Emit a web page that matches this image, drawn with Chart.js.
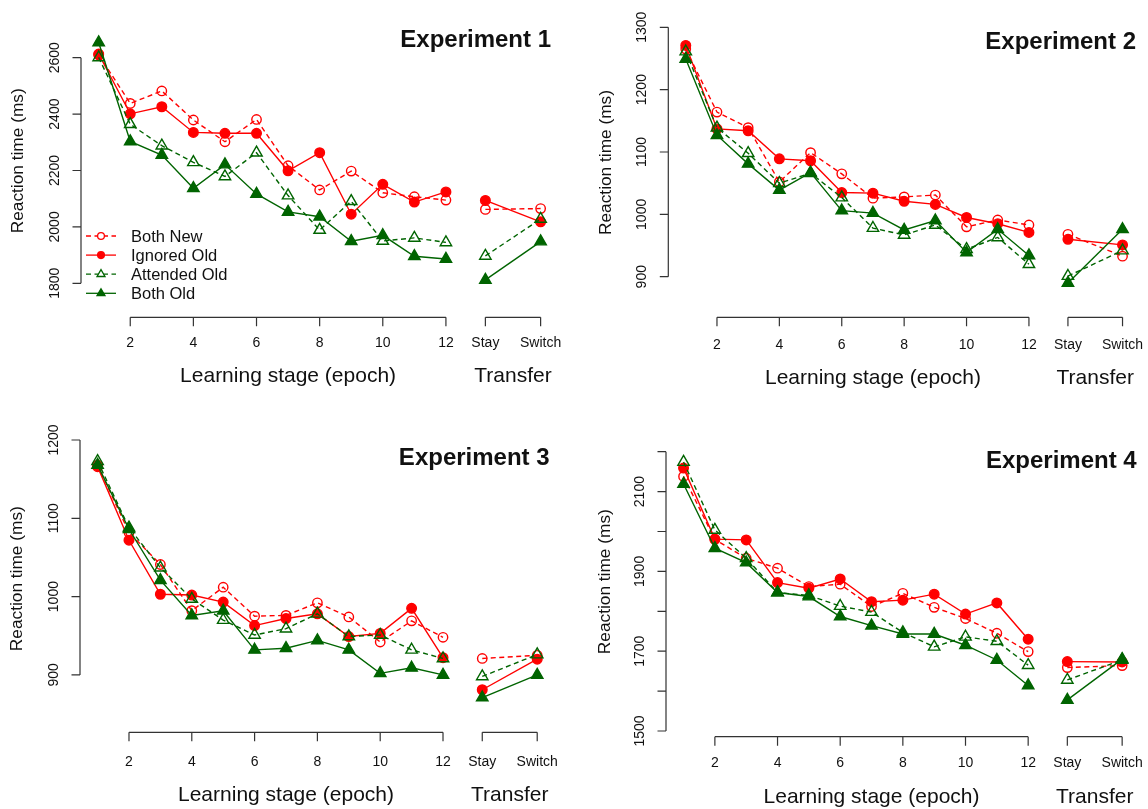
<!DOCTYPE html>
<html><head><meta charset="utf-8">
<script src="https://cdn.jsdelivr.net/npm/chart.js@4.4.1/dist/chart.umd.min.js"></script>
<style>
html,body{margin:0;padding:0;background:#fff;}
#wrap{position:relative;width:1148px;height:809px;overflow:hidden;background:#fff;}
canvas{position:absolute;}
</style></head><body><div id="wrap">
<canvas id="c1" width="574" height="404" style="left:0;top:0"></canvas>
<canvas id="c2" width="574" height="404" style="left:574px;top:0"></canvas>
<canvas id="c3" width="574" height="405" style="left:0;top:404px"></canvas>
<canvas id="c4" width="574" height="405" style="left:574px;top:404px"></canvas>
</div>
<script>
// ---------- categories / tick labels ----------
const epochs = [1,2,3,4,5,6,7,8,9,10,11,12];
const transferPos = [13.25, 15];
const epochTicks = [2,4,6,8,10,12];
const transferLabels = ['Stay','Switch'];
const seriesNames = ['Both New','Ignored Old','Attended Old','Both Old'];
const panelTitles = ['Experiment 1','Experiment 2','Experiment 3','Experiment 4'];
const yAxisTitle = 'Reaction time (ms)';
const xTitleLearn = 'Learning stage (epoch)';
const xTitleTransfer = 'Transfer';

// ---------- Experiment 1 ----------
const e1YTicks = [1800,2000,2200,2400,2600];
const e1BothNew      = [2610,2438,2482,2379,2302,2381,2217,2131,2198,2121,2107,2095];
const e1BothNewT     = [2062,2065];
const e1IgnoredOld   = [2613,2401,2426,2335,2332,2332,2199,2263,2045,2151,2088,2124];
const e1IgnoredOldT  = [2094,2018];
const e1AttendedOld  = [2601,2364,2288,2229,2179,2263,2111,1989,2091,1950,1961,1945];
const e1AttendedOldT = [1897,2028];
const e1BothOld      = [2654,2303,2255,2137,2221,2117,2053,2036,1949,1970,1896,1886];
const e1BothOldT     = [1812,1948];

// ---------- Experiment 2 ----------
const e2YTicks = [900,1000,1100,1200,1300];
const e2BothNew      = [1265,1164,1139,1052,1099,1065,1026,1028,1031,980,991,983];
const e2BothNewT     = [968,933];
const e2IgnoredOld   = [1271,1137,1134,1089,1086,1035,1034,1021,1016,995,985,971];
const e2IgnoredOldT  = [960,951];
const e2AttendedOld  = [1261,1139,1098,1050,1066,1027,978,967,983,944,963,920];
const e2AttendedOldT = [901,942];
const e2BothOld      = [1249,1127,1081,1039,1067,1006,1002,975,990,939,976,934];
const e2BothOldT     = [890,976];

// ---------- Experiment 3 ----------
const e3YTicks = [900,1000,1100,1200];
const e3BothNew      = [1168,1082,1041,982,1012,975,976,992,974,942,969,948];
const e3BothNewT     = [921,925];
const e3IgnoredOld   = [1166,1072,1003,1002,993,963,972,978,949,953,985,922];
const e3IgnoredOldT  = [881,920];
const e3AttendedOld  = [1173,1088,1037,997,970,951,959,978,949,951,932,921];
const e3AttendedOldT = [898,926];
const e3BothOld      = [1168,1086,1021,976,982,932,934,944,932,902,909,900];
const e3BothOldT     = [871,900];

// ---------- Experiment 4 ----------
const e4YTicks = [1500,1600,1700,1800,1900,2000,2100,2200];
const e4YLabels = [1500,1700,1900,2100];
const e4BothNew      = [2138,1980,1933,1908,1862,1868,1812,1845,1810,1782,1745,1699];
const e4BothNewT     = [1659,1664];
const e4IgnoredOld   = [2159,1981,1979,1872,1858,1881,1824,1828,1843,1793,1821,1730];
const e4IgnoredOldT  = [1674,1673];
const e4AttendedOld  = [2174,2004,1933,1847,1840,1813,1798,1747,1711,1736,1725,1665];
const e4AttendedOldT = [1628,1678];
const e4BothOld      = [2119,1958,1922,1847,1837,1787,1764,1743,1743,1715,1678,1614];
const e4BothOldT     = [1578,1680];

// ---------- styles ----------
const FONT = '"Liberation Sans", Arial, Helvetica, sans-serif';
const RED = '#ff0000', GREEN = '#006400', AXIS = '#333333', TEXT = '#111111';
const seriesStyles = [
  {color: RED,   dash: [5,3.5], pointStyle: 'circle',   filled: false, radius: 4.7, legendRadius: 3.4},
  {color: RED,   dash: [],      pointStyle: 'circle',   filled: true,  radius: 4.8, legendRadius: 3.4},
  {color: GREEN, dash: [5,3.5], pointStyle: 'triangle', filled: false, radius: 6.6, legendRadius: 4.6},
  {color: GREEN, dash: [],      pointStyle: 'triangle', filled: true,  radius: 6.6, legendRadius: 4.6}
];

const panels = [
  {id:'c1', title: panelTitles[0], yTicks: e1YTicks, yLabels: e1YTicks,
   series: [[e1BothNew,e1BothNewT],[e1IgnoredOld,e1IgnoredOldT],[e1AttendedOld,e1AttendedOldT],[e1BothOld,e1BothOldT]],
   yMin: 1772.7, yMax: 2684, pad: {left:81, right:15.7, top:34, bottom:113},
   titleX: 551, titleY: 40, yTitleX: 18.3, yTitleY: 160.8, bracketY: 317.3, tickLabY: 343.3, xTitleY: 376.7, legend: true},
  {id:'c2', title: panelTitles[1], yTicks: e2YTicks, yLabels: e2YTicks,
   series: [[e2BothNew,e2BothNewT],[e2IgnoredOld,e2IgnoredOldT],[e2AttendedOld,e2AttendedOldT],[e2BothOld,e2BothOldT]],
   yMin: 877.1, yMax: 1311.7, pad: {left:94.3, right:6, top:20, bottom:113},
   titleX: 562, titleY: 42.3, yTitleX: 32, yTitleY: 162.5, bracketY: 317.3, tickLabY: 345, xTitleY: 378, legend: false},
  {id:'c3', title: panelTitles[2], yTicks: e3YTicks, yLabels: e3YTicks,
   series: [[e3BothNew,e3BothNewT],[e3IgnoredOld,e3IgnoredOldT],[e3AttendedOld,e3AttendedOldT],[e3BothOld,e3BothOldT]],
   yMin: 857.7, yMax: 1212.8, pad: {left:80, right:19.2, top:26, bottom:101},
   titleX: 549.6, titleY: 54.3, yTitleX: 17.3, yTitleY: 174.7, bracketY: 328.3, tickLabY: 357.7, xTitleY: 391.7, legend: false},
  {id:'c4', title: panelTitles[3], yTicks: e4YTicks, yLabels: e4YLabels,
   series: [[e4BothNew,e4BothNewT],[e4IgnoredOld,e4IgnoredOldT],[e4AttendedOld,e4AttendedOldT],[e4BothOld,e4BothOldT]],
   yMin: 1490, yMax: 2229.3, pad: {left:92, right:8.3, top:36, bottom:74},
   titleX: 562.7, titleY: 57.7, yTitleX: 31, yTitleY: 177.7, bracketY: 332.7, tickLabY: 359.3, xTitleY: 393.3, legend: false}
];

// ---------- R-style axes, title and legend plugin ----------
const rStyle = {
  id: 'rStyle',
  afterDraw(chart, args, o) {
    const ctx = chart.ctx, xs = chart.scales.x, ys = chart.scales.y, ca = chart.chartArea;
    ctx.save();
    ctx.strokeStyle = AXIS; ctx.fillStyle = TEXT; ctx.lineWidth = 1.2;
    // y axis
    const yt = o.yTicks, x0 = ca.left;
    ctx.beginPath();
    ctx.moveTo(x0, ys.getPixelForValue(yt[yt.length-1]));
    ctx.lineTo(x0, ys.getPixelForValue(yt[0]));
    yt.forEach(v => { const p = ys.getPixelForValue(v); ctx.moveTo(x0, p); ctx.lineTo(x0 - 8.5, p); });
    ctx.stroke();
    ctx.font = '14px ' + FONT; ctx.textAlign = 'center'; ctx.textBaseline = 'middle';
    o.yLabels.forEach(v => {
      const p = ys.getPixelForValue(v);
      ctx.save(); ctx.translate(x0 - 26, p); ctx.rotate(-Math.PI/2); ctx.fillText(String(v), 0, 0); ctx.restore();
    });
    ctx.font = '17.3px ' + FONT;
    ctx.save(); ctx.translate(o.yTitleX, o.yTitleY); ctx.rotate(-Math.PI/2); ctx.fillText(yAxisTitle, 0, 0); ctx.restore();
    // x brackets
    const bracket = (vals, labels) => {
      const xa = vals.map(v => xs.getPixelForValue(v));
      ctx.beginPath();
      ctx.moveTo(xa[0], o.bracketY); ctx.lineTo(xa[xa.length-1], o.bracketY);
      xa.forEach(px => { ctx.moveTo(px, o.bracketY); ctx.lineTo(px, o.bracketY + 9); });
      ctx.stroke();
      ctx.font = '14px ' + FONT;
      xa.forEach((px, i) => ctx.fillText(labels[i], px, o.tickLabY));
      return (xa[0] + xa[xa.length-1]) / 2;
    };
    const cLearn = bracket(epochTicks, epochTicks.map(String));
    const cTrans = bracket(transferPos, transferLabels);
    ctx.font = '21px ' + FONT;
    ctx.fillText(xTitleLearn, cLearn, o.xTitleY);
    ctx.fillText(xTitleTransfer, cTrans, o.xTitleY);
    // panel title
    ctx.font = 'bold 24px ' + FONT; ctx.textAlign = 'right';
    ctx.fillText(o.title, o.titleX, o.titleY);
    // legend
    if (o.legend) {
      const rows = [236, 255.1, 274.2, 293.3];
      seriesNames.forEach((name, i) => {
        const s = seriesStyles[i], y = rows[i];
        ctx.strokeStyle = s.color; ctx.lineWidth = 1.3; ctx.setLineDash(s.dash);
        ctx.beginPath(); ctx.moveTo(86, y); ctx.lineTo(116, y); ctx.stroke();
        ctx.setLineDash([]);
        ctx.fillStyle = s.filled ? s.color : '#ffffff';
        ctx.strokeStyle = s.color; ctx.lineWidth = 1.3;
        Chart.helpers.drawPoint(ctx, {pointStyle: s.pointStyle, radius: s.legendRadius, rotation: 0, borderWidth: 1.3}, 101, y);
        ctx.fillStyle = TEXT; ctx.textAlign = 'left'; ctx.textBaseline = 'middle';
        ctx.font = '16.5px ' + FONT;
        ctx.fillText(name, 131, y + 1);
      });
    }
    ctx.restore();
  }
};

function buildDatasets(series) {
  const ds = [];
  series.forEach((pair, i) => {
    const s = seriesStyles[i];
    const common = {
      borderColor: s.color, borderWidth: 1.4, borderDash: s.dash,
      pointStyle: s.pointStyle, pointRadius: s.radius, pointBorderWidth: 1.4,
      pointBorderColor: s.color,
      pointBackgroundColor: s.filled ? s.color : 'rgba(255,255,255,0)',
      backgroundColor: s.filled ? s.color : 'rgba(255,255,255,0)',
      tension: 0, fill: false, clip: false, order: 3 - i
    };
    ds.push(Object.assign({label: seriesNames[i], data: epochs.map((e, k) => ({x: e, y: pair[0][k]}))}, common));
    ds.push(Object.assign({label: seriesNames[i] + ' (transfer)', data: transferPos.map((e, k) => ({x: e, y: pair[1][k]}))}, common));
  });
  return ds;
}

panels.forEach(p => {
  new Chart(document.getElementById(p.id), {
    type: 'line',
    data: {datasets: buildDatasets(p.series)},
    options: {
      responsive: false, animation: false, events: [],
      layout: {padding: p.pad},
      scales: {
        x: {type: 'linear', min: 0.44, max: 15.56, display: false},
        y: {type: 'linear', min: p.yMin, max: p.yMax, display: false}
      },
      plugins: {
        legend: {display: false}, tooltip: {enabled: false},
        rStyle: {yTicks: p.yTicks, yLabels: p.yLabels, title: p.title, titleX: p.titleX, titleY: p.titleY,
                 yTitleX: p.yTitleX, yTitleY: p.yTitleY, bracketY: p.bracketY, tickLabY: p.tickLabY,
                 xTitleY: p.xTitleY, legend: p.legend}
      }
    },
    plugins: [rStyle]
  });
});
</script></body></html>
